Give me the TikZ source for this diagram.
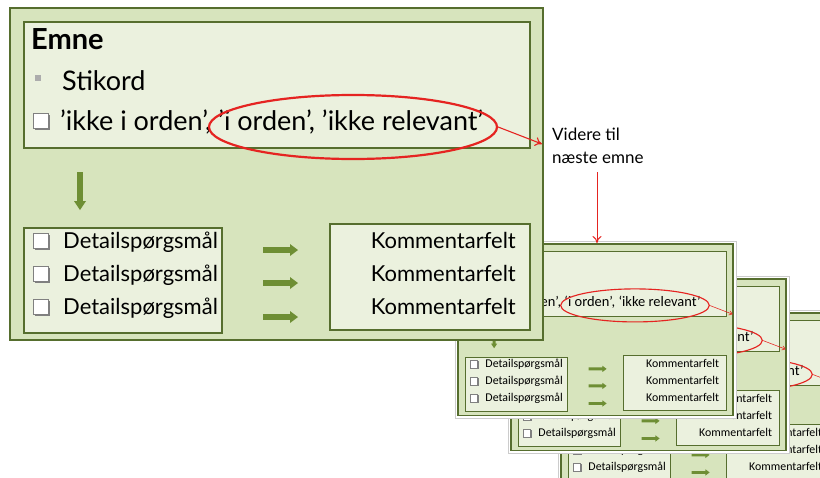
\documentclass[tikz,border=0pt]{standalone}
\usepackage{fontspec}
\setmainfont{Lato}
\newfontfamily\smallfont{Carlito}
\usetikzlibrary{arrows.meta,shapes.geometric}
\definecolor{outerfill}{HTML}{D7E4BD}
\definecolor{innerfill}{HTML}{EBF1DE}
\definecolor{olivedark}{HTML}{566E2E}
\definecolor{olivearrow}{HTML}{6E8E34}
\definecolor{redline}{HTML}{E52421}
\newcommand\slsc{1}
\newcommand\slfont{}
\newcommand\oq{’}
\newcommand\topsize{\fontsize{27}{31}\selectfont}
\newcommand\rowsize{\fontsize{22}{26}\selectfont}
\tikzset{
  txt/.style={anchor=base west, inner sep=0pt, font=\slfont\rowsize},
  txtr/.style={anchor=base east, inner sep=0pt, font=\slfont\rowsize},
  toptxt/.style={anchor=base west, inner sep=0pt, font=\slfont\topsize},
  boxfill/.style={fill=innerfill, draw=olivedark, line width=\slsc*1.7pt},
  greenarrow/.style={fill=olivearrow},
  redarrow/.style={draw=redline, line width=\slsc*1.1pt, -{To[length=\slsc*7pt, width=\slsc*9pt]}}
}
\newcommand\cbox[2]{%
  \fill[black!50] (#1+1.8,#2+1.8) rectangle ++(15,15);
  \draw[fill=white, draw=gray, line width=\slsc*0.9pt] (#1,#2) rectangle ++(15,15);
}
\newcommand\rarrow[3]{%
  \fill[greenarrow] (#1,#3-2.8) -- (#2-8,#3-2.8) -- (#2-8,#3-6) -- (#2,#3) -- (#2-8,#3+6) -- (#2-8,#3+2.8) -- (#1,#3+2.8) -- cycle;
}
\newcommand\drawslide[1]{%
  \draw[fill=outerfill, draw=olivedark, line width=\slsc*2.8pt] (0,0) rectangle (533,332);
  \draw[boxfill] (14,14) rectangle (520,140);
  \node[anchor=base west, inner sep=0pt, font=\slfont\bfseries\fontsize{29}{33}\selectfont] (#1-emne) at (21,41) {Emne};
  \fill[gray!65] (25,67) rectangle (31,73);
  \node[toptxt] (#1-stik) at (52,82) {Stikord};
  \cbox{23}{105}
  \node[toptxt] (#1-status) at (50,122) {\oq ikke i orden’, \oq i orden’, \oq ikke relevant’};
  \node[ellipse, draw=redline, line width=\slsc*2.2pt, minimum width=288pt, minimum height=64pt, inner sep=0pt, transform shape] (#1-ell) at (343,119) {};
  \coordinate (#1-edge) at (532,136);
  \draw[redarrow] (#1-ell.east) -- (#1-edge);
  \fill[greenarrow] (67.2,164) -- (67.2,193) -- (64,193) -- (70,202) -- (76,193) -- (72.8,193) -- (72.8,164) -- cycle;
  \draw[boxfill] (14,220) rectangle (212,325);
  \draw[boxfill] (320,216) rectangle (520,322);
  \cbox{23}{225}\cbox{23}{258}\cbox{23}{291}
  \node[txt] (#1-d1) at (53,240) {Detailspørgsmål};
  \node[txt] (#1-d2) at (53,273) {Detailspørgsmål};
  \node[txt] (#1-d3) at (53,306) {Detailspørgsmål};
  \rarrow{253}{288}{242}\rarrow{253}{288}{275}\rarrow{253}{288}{309}
  \node[txtr] (#1-k1) at (506,240) {Kommentarfelt};
  \node[txtr] (#1-k2) at (506,273) {Kommentarfelt};
  \node[txtr] (#1-k3) at (506,306) {Kommentarfelt};
}
\newcommand\smallslide[3]{%
  \begin{scope}[shift={(#2,#3)}, scale=0.516, transform shape]
    \renewcommand\slsc{0.516}\renewcommand\slfont{\smallfont}%
    \renewcommand\oq{‘}%
    \renewcommand\topsize{\fontsize{28}{32}\selectfont}%
    \renewcommand\rowsize{\fontsize{23}{27}\selectfont}%
    \draw[fill=white, draw=black!20, line width=0.4pt] (-6,-6) rectangle (539,338);
    \drawslide{#1}
  \end{scope}
}
\begin{document}
\begin{tikzpicture}[x=1pt,y=-1pt]
\useasboundingbox (0,0) rectangle (820,477);
\clip (0,0) rectangle (820,477);
\fill[white] (0,0) rectangle (820,477);
\smallslide{s4}{561}{313}
\smallslide{s3}{511}{279}
\smallslide{s2}{458}{244}
\begin{scope}[shift={(10,8)}]
  \drawslide{m}
\end{scope}
\node[anchor=base west, inner sep=0pt, align=left, font=\fontsize{17}{23}\selectfont] (videre) at (552,163) {Videre til\\næste emne};
\coordinate (s2top) at (597,243);
\draw[draw=redline, line width=1pt, -{To[length=7pt, width=9pt]}] (597,172) -- (s2top);
\end{tikzpicture}
\end{document}
